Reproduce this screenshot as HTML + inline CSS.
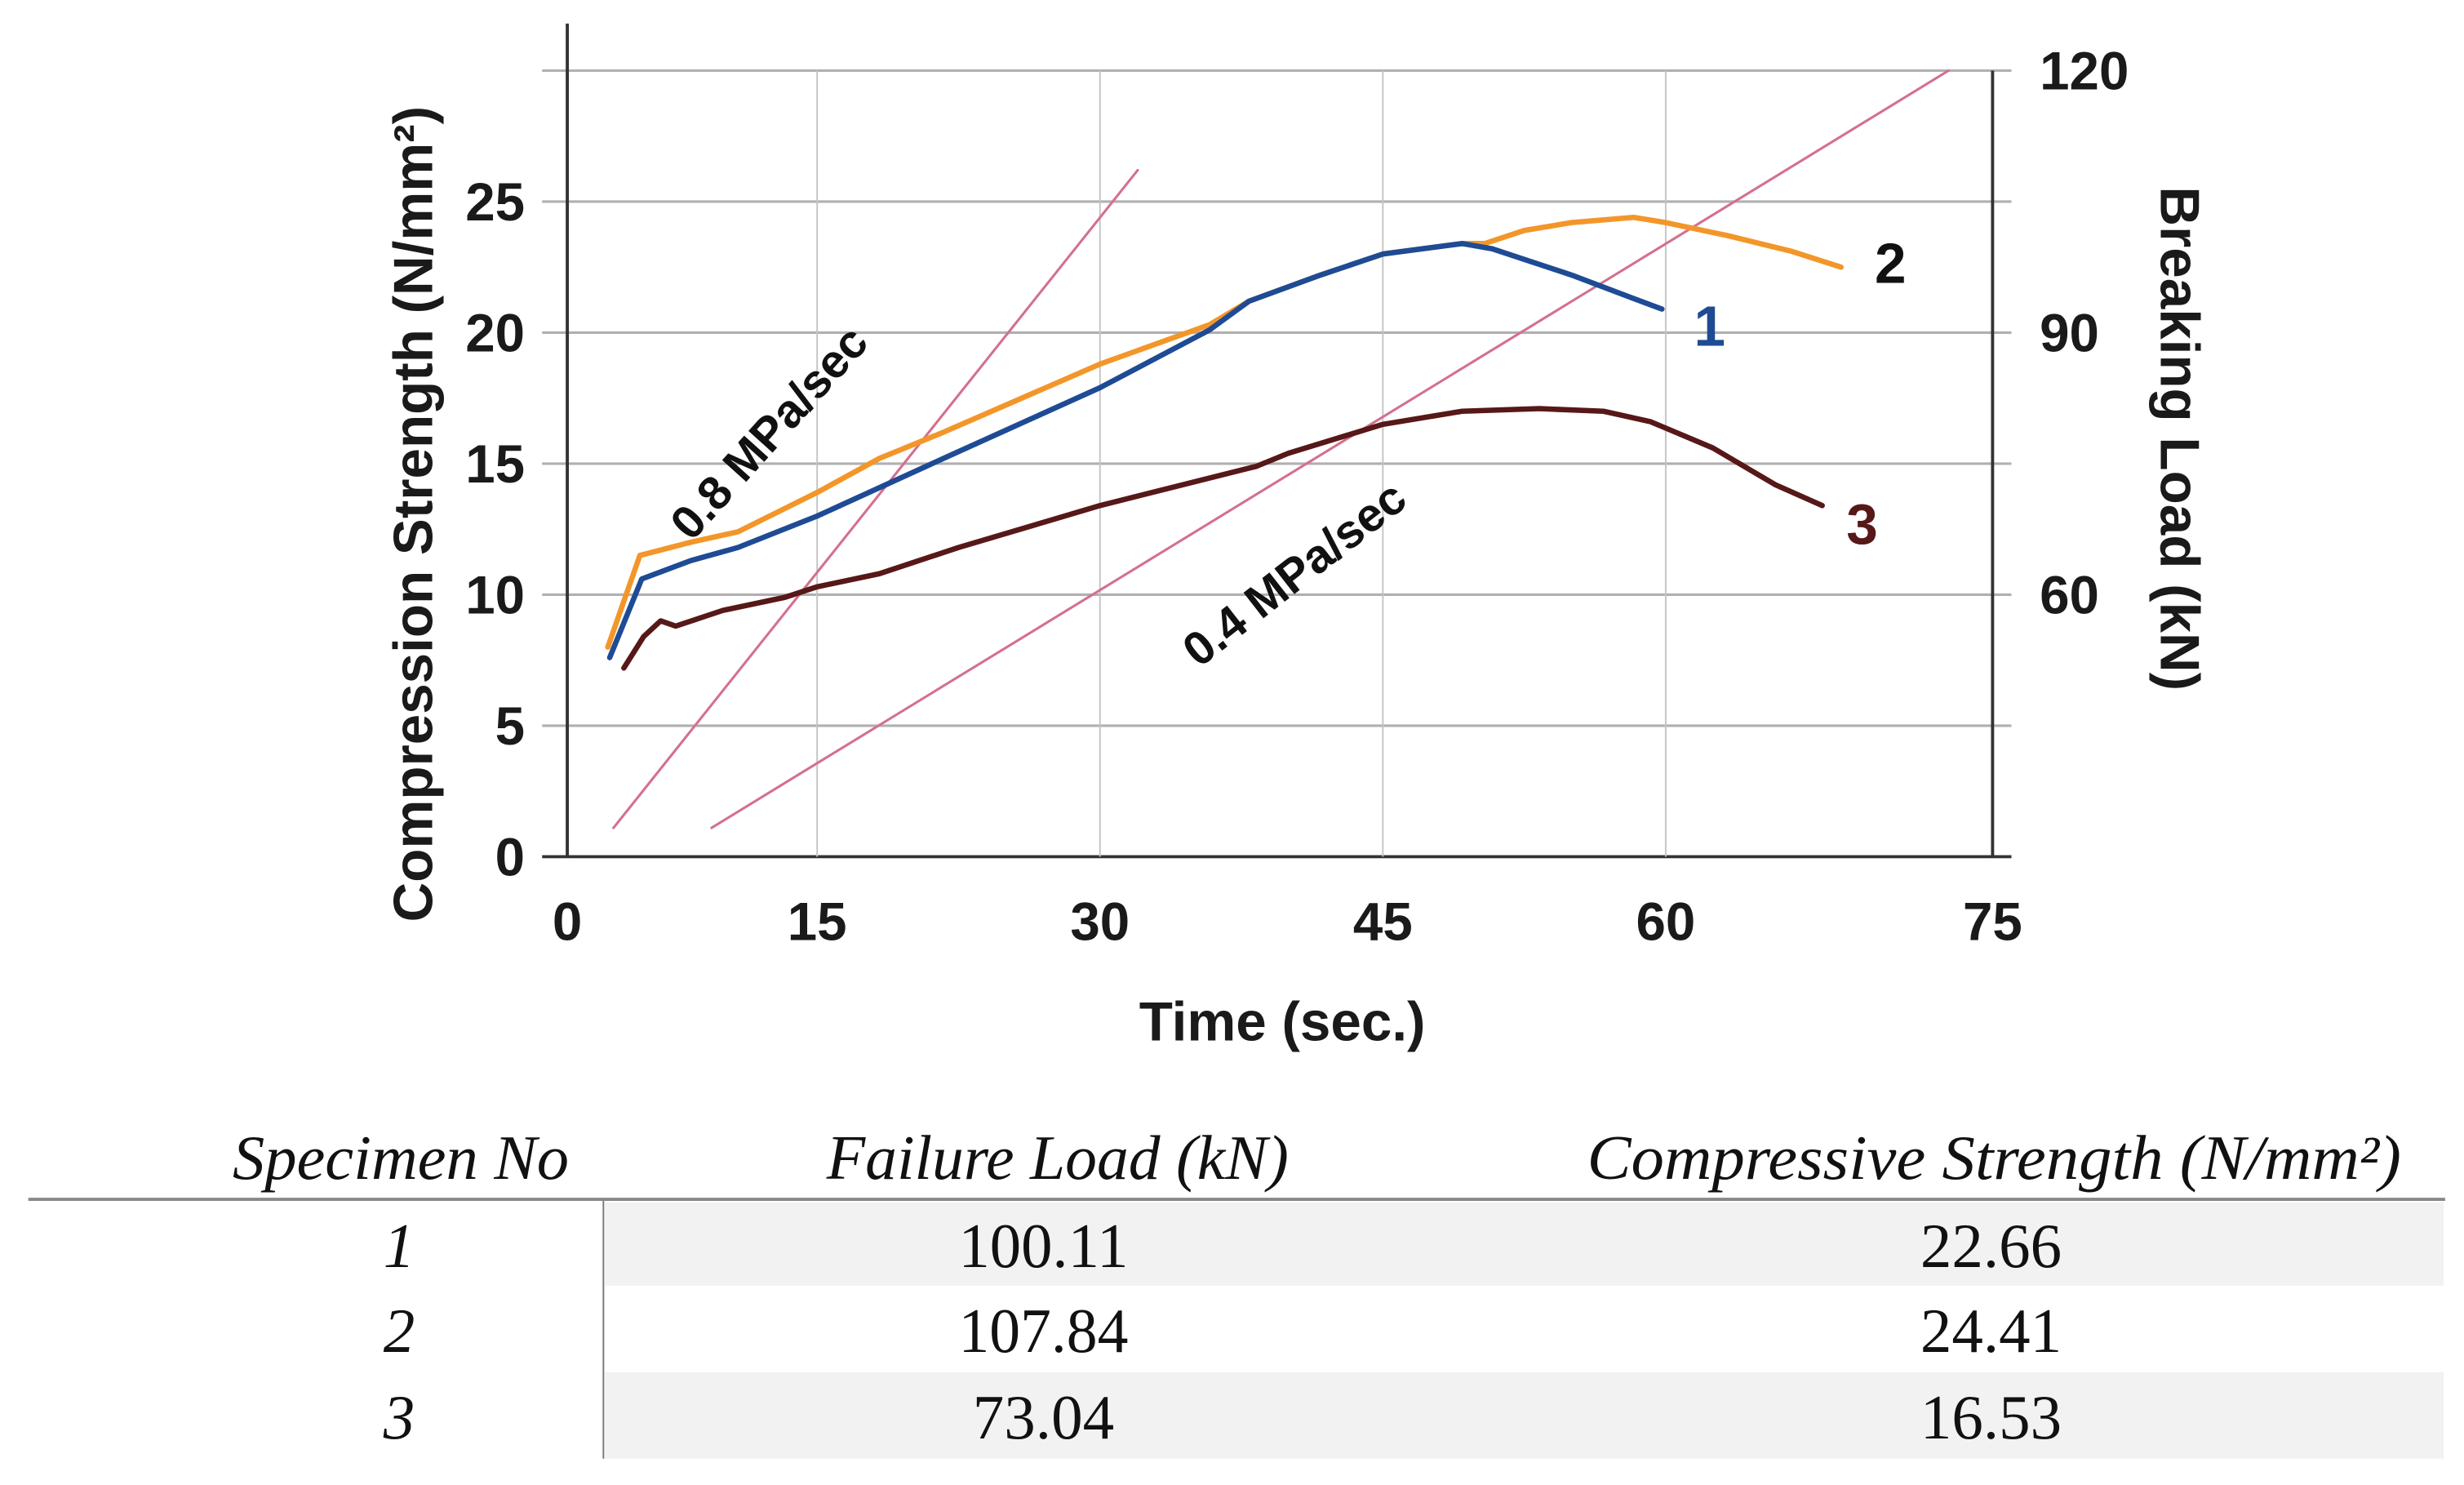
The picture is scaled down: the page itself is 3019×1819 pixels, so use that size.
<!DOCTYPE html>
<html><head><meta charset="utf-8">
<style>
html,body{margin:0;padding:0;background:#fff;}
svg{display:block;}
</style></head>
<body>
<svg id="chart" width="3019" height="1819" viewBox="0 0 1568 944.7" xmlns="http://www.w3.org/2000/svg" font-family="'Liberation Sans', sans-serif">
<g id="grid"></g>
<g id="axes"></g>
<g id="series"></g>
<g id="labels"></g>
<g id="table">
  <rect x="385" y="765" width="1170" height="53" fill="#f2f2f2"/>
  <rect x="385" y="873" width="1170" height="55" fill="#f2f2f2"/>
  <line x1="18" y1="763" x2="1556" y2="763" stroke="#888" stroke-width="2"/>
  <line x1="384" y1="764" x2="384" y2="928" stroke="#777" stroke-width="1"/>
  <g font-family="'Liberation Serif', serif" font-size="40" fill="#111" text-anchor="middle" lengthAdjust="spacingAndGlyphs">
    <text x="255" y="750" font-style="italic" textLength="214" lengthAdjust="spacingAndGlyphs">Specimen No</text>
    <text x="673" y="750" font-style="italic" textLength="294" lengthAdjust="spacingAndGlyphs">Failure Load (kN)</text>
    <text x="1269" y="750" font-style="italic" textLength="518" lengthAdjust="spacingAndGlyphs">Compressive Strength (N/mm²)</text>
    <text x="254" y="806" font-style="italic">1</text>
    <text x="664" y="806" textLength="108" lengthAdjust="spacingAndGlyphs">100.11</text>
    <text x="1267" y="806" textLength="90" lengthAdjust="spacingAndGlyphs">22.66</text>
    <text x="254" y="860" font-style="italic">2</text>
    <text x="664" y="860" textLength="108" lengthAdjust="spacingAndGlyphs">107.84</text>
    <text x="1267" y="860" textLength="90" lengthAdjust="spacingAndGlyphs">24.41</text>
    <text x="254" y="915" font-style="italic">3</text>
    <text x="664" y="915" textLength="90" lengthAdjust="spacingAndGlyphs">73.04</text>
    <text x="1267" y="915" textLength="90" lengthAdjust="spacingAndGlyphs">16.53</text>
  </g>
</g>
</svg>
<script>
// ---- data ----
const xTicks = [0, 15, 30, 45, 60, 75];
const yTicks = [0, 5, 10, 15, 20, 25, 30];
const yTickLabels = ["0", "5", "10", "15", "20", "25", ""];
const rightTicks = [120, 90, 60];
const s1t = [4, 5.7, 8.3, 10.8, 15, 21.7, 30, 35.8, 37.9, 41.7, 45, 49.2, 50.8, 55, 58.3, 59.8];
const s1v = [7.6, 10.6, 11.3, 11.8, 13.0, 15.2, 17.9, 20.1, 21.2, 22.2, 23.0, 23.4, 23.2, 22.2, 21.3, 20.9];
const s2t = [3.9, 5.6, 8.3, 10.8, 15, 18.3, 21.7, 30, 35.8, 37.9, 41.7, 45, 49.2, 50.4, 52.5, 55, 58.3, 60, 63.3, 66.7, 69.3];
const s2v = [8.0, 11.5, 12.0, 12.4, 13.9, 15.2, 16.2, 18.8, 20.3, 21.2, 22.2, 23.0, 23.4, 23.4, 23.9, 24.2, 24.4, 24.2, 23.7, 23.1, 22.5];
const s3t = [4.75, 5.8, 6.7, 7.5, 10, 13.3, 15, 18.3, 22.5, 30, 38.3, 40, 45, 49.2, 53.3, 56.7, 59.2, 62.5, 65.8, 68.3];
const s3v = [7.2, 8.4, 9.0, 8.8, 9.4, 9.9, 10.3, 10.8, 11.8, 13.4, 14.9, 15.4, 16.5, 17.0, 17.1, 17.0, 16.6, 15.6, 14.2, 13.4];
const rateFastT = [4.2, 32];
const rateFastV = [1.1, 26.2];
const rateSlowT = [9.4, 75];
const rateSlowV = [1.1, 30];

// ---- scales ----
const X0 = 361, X1 = 1268, Y0 = 545;
function x(t){ return Math.min(X1, Math.max(X0, 340 + 12 * t)); }
function y(s){ return Y0 - 16.67 * s; }
function yR(r){ return y((r - 30) / 3); }
const NS = "http://www.w3.org/2000/svg";
function mk(tag, parent, attrs){ const e = document.createElementNS(NS, tag); for (const k in attrs) e.setAttribute(k, attrs[k]); parent.appendChild(e); return e; }
const grid = document.getElementById('grid'), axes = document.getElementById('axes'), series = document.getElementById('series'), labels = document.getElementById('labels');

yTicks.forEach((v, i) => {
  const l = mk('line', grid, {x1: 345, x2: 1280, y1: y(v), y2: y(v), stroke: i === 0 ? '#333' : '#b0b0b0', 'stroke-width': i === 0 ? 2 : 1.6});
  
  
  if (yTickLabels[i]) {
    const t = mk('text', labels, {x: 334, y: y(v) + 12, 'text-anchor': 'end', 'font-size': 34, 'font-weight': 'bold', fill: '#1a1a1a'});
    t.textContent = yTickLabels[i];
    
    
  }
});
xTicks.forEach((v, i) => {
  const last = i === xTicks.length - 1;
  if (i > 0 && !last) {
    const l = mk('line', grid, {x1: x(v), x2: x(v), y1: y(30), y2: Y0, stroke: '#c4c4c4', 'stroke-width': 1});
    
    
  }
  const t = mk('text', labels, {x: last ? X1 : x(v), y: 598, 'text-anchor': 'middle', 'font-size': 34, 'font-weight': 'bold', fill: '#1a1a1a'});
  t.textContent = String(v);
  
  
});
rightTicks.forEach(v => {
  const t = mk('text', labels, {x: 1298, y: yR(v) + 12, 'font-size': 34, 'font-weight': 'bold', fill: '#1a1a1a'});
  t.textContent = String(v);
  
  
});
const la = mk('line', axes, {x1: X0, x2: X0, y1: 15, y2: Y0, stroke: '#333', 'stroke-width': 2});


const ra = mk('line', axes, {x1: X1, x2: X1, y1: y(30), y2: Y0, stroke: '#333', 'stroke-width': 2});



function poly(ts, vs, color, w, name){
  const p = mk('polyline', series, {points: ts.map((t, i) => x(t) + ',' + y(vs[i])).join(' '), fill: 'none', stroke: color, 'stroke-width': w, 'stroke-linejoin': 'round', 'stroke-linecap': 'round'});
  
  
}
poly(rateFastT, rateFastV, '#d4708f', 1.6, 'rate-line-0.8');
poly(rateSlowT, rateSlowV, '#d4708f', 1.6, 'rate-line-0.4');
poly(s2t, s2v, '#f3962a', 3.4, 'series-specimen-2');
poly(s1t, s1v, '#1e4b94', 3.4, 'series-specimen-1');
poly(s3t, s3v, '#571818', 3.4, 'series-specimen-3');

function txt(str, attrs, name){
  const t = mk('text', labels, attrs);
  t.textContent = str;
  
  
  return t;
}
txt('1', {x: 1088, y: 220, 'text-anchor': 'middle', 'font-size': 36, 'font-weight': 'bold', fill: '#1e4b94'}, 'series-label-1');
txt('2', {x: 1203, y: 180, 'text-anchor': 'middle', 'font-size': 36, 'font-weight': 'bold', fill: '#111'}, 'series-label-2');
txt('3', {x: 1185, y: 346, 'text-anchor': 'middle', 'font-size': 36, 'font-weight': 'bold', fill: '#571818'}, 'series-label-3');
txt('0.8 MPa/sec', {x: 0, y: 0, 'text-anchor': 'middle', 'font-size': 30, 'font-weight': 'bold', fill: '#111', transform: 'translate(497,282) rotate(-48)'}, 'rate-label-0.8');
txt('0.4 MPa/sec', {x: 0, y: 0, 'text-anchor': 'middle', 'font-size': 30, 'font-weight': 'bold', fill: '#111', transform: 'translate(830,373) rotate(-38)'}, 'rate-label-0.4');
txt('Compression Strength (N/mm²)', {x: 0, y: 0, 'text-anchor': 'middle', 'font-size': 35, 'font-weight': 'bold', fill: '#1a1a1a', transform: 'translate(275,327) rotate(-90)'}, 'y-axis-title');
txt('Breaking Load (kN)', {x: 0, y: 0, 'text-anchor': 'middle', 'font-size': 35, 'font-weight': 'bold', fill: '#1a1a1a', transform: 'translate(1375,279) rotate(90)'}, 'right-axis-title');
txt('Time (sec.)', {x: 816, y: 662, 'text-anchor': 'middle', 'font-size': 35, 'font-weight': 'bold', fill: '#1a1a1a'}, 'x-axis-title');
</script>
</body></html>
